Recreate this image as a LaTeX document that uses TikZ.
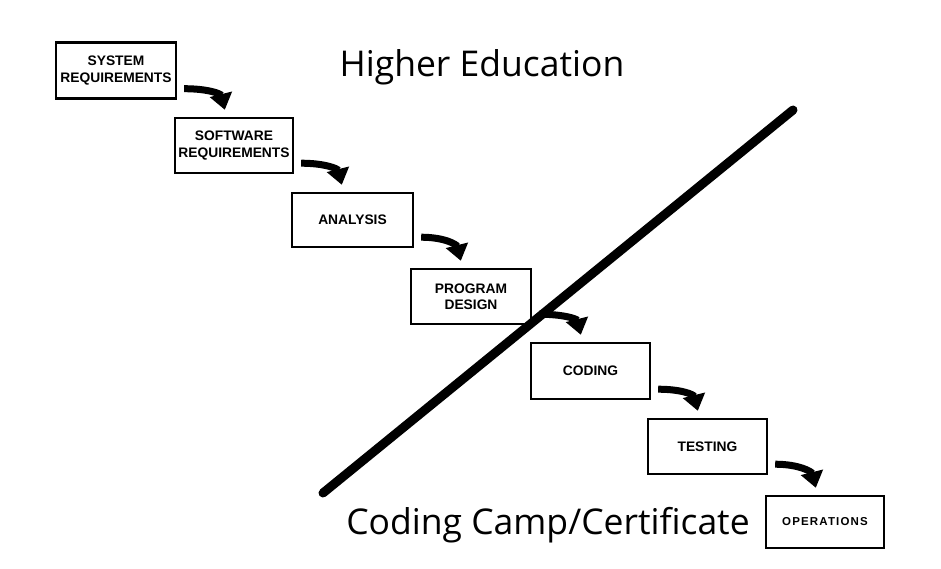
\documentclass[tikz,border=0pt]{standalone}
\usepackage{fontspec}
\setmainfont{Open Sans}
\newfontfamily\boxfont{Liberation Sans}
\newfontfamily\opsfont[LetterSpace=10]{Liberation Sans}
\usetikzlibrary{arrows.meta,calc}
\begin{document}
\begin{tikzpicture}[x=1pt,y=-1pt,
  stage/.style={draw,line width=2.4pt,inner sep=0pt,font=\boxfont\bfseries\fontsize{13.8}{16.5}\selectfont,align=center},
  flow/.style={line width=7pt,-{Triangle[length=16pt,width=22pt]}},
  title/.style={font=\fontsize{35.5}{38}\selectfont,inner sep=0pt}]
\useasboundingbox (0,0) rectangle (941,568);
\fill[white] (0,0) rectangle (941,568);
\node[stage,minimum width=120pt,minimum height=56pt] (b1) at (116,70.5) {SYSTEM\\REQUIREMENTS};
\node[stage,minimum width=118pt,minimum height=55pt] (b2) at (234,145.5) {SOFTWARE\\REQUIREMENTS};
\node[stage,minimum width=121pt,minimum height=54pt] (b3) at (352.5,220) {ANALYSIS};
\node[stage,minimum width=120pt,minimum height=55pt] (b4) at (471,296.5) {PROGRAM\\DESIGN};
\node[stage,minimum width=119pt,minimum height=56pt] (b5) at (590.5,371) {CODING};
\node[stage,minimum width=119pt,minimum height=55pt] (b6) at (707.5,446.5) {TESTING};
\node[stage,minimum width=118pt,minimum height=52pt,font=\opsfont\bfseries\fontsize{11.5}{13}\selectfont] (b7) at (825,522) {OPERATIONS};
\foreach \a/\b in {b1/b2,b2/b3,b3/b4,b4/b5,b5/b6,b6/b7}{
  \coordinate (s\a) at ($(\a.south east)+(7,-11)$);
  \coordinate (e\a) at ($(\b.north west)+(51,-7)$);
  \draw[flow] (s\a) .. controls ($(s\a)+(24,0)$) and ($(e\a)+(-4,-16)$) .. (e\a);
}
\coordinate (l1) at (323,493);
\coordinate (l2) at (793,110);
\draw[line width=9pt,line cap=round] (l1) -- (l2);
\node[title] (t1) at (482,67) {Higher Education};
\node[title] (t2) at (548,525) {Coding Camp/Certificate};
\end{tikzpicture}
\end{document}
